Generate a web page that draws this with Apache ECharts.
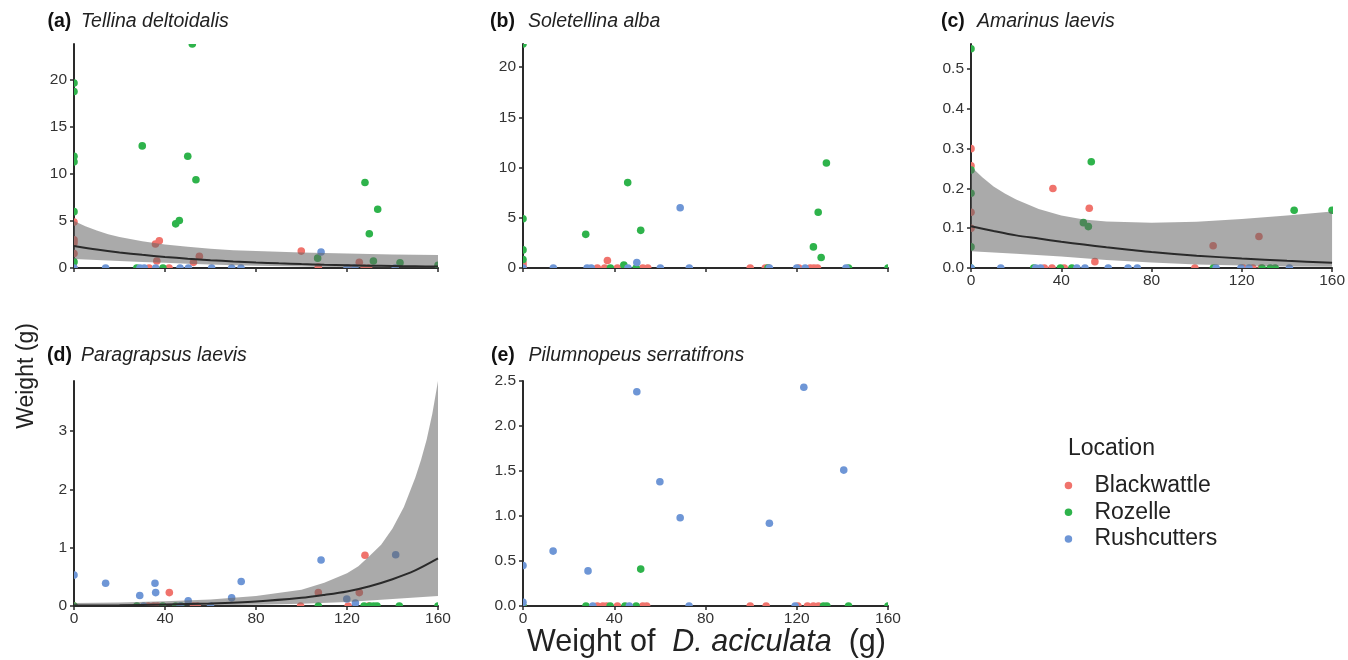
<!DOCTYPE html>
<html>
<head>
<meta charset="utf-8">
<script src="https://cdn.jsdelivr.net/npm/echarts@6/dist/echarts.min.js"></script>
<style>
html,body{margin:0;padding:0;background:#fff;}
#chart{width:1348px;height:660px;}
</style>
</head>
<body>
<div id="chart"></div>
<script>
// ---------- data ----------
const LOCATIONS = ['Blackwattle', 'Rozelle', 'Rushcutters'];
const X_TICKS = [0, 40, 80, 120, 160];

// Panel (a) Tellina deltoidalis
const aRed = [[0,4.9],[0,3.0],[0,2.7],[0,1.55],[0,0],[33,0],[35.8,2.55],[37.5,2.9],[36.4,0.75],[41.8,0],[52.5,0.6],[55.1,1.25],[99.9,1.8],[107.4,0.1],[120.5,0],[125.4,0.6],[127.5,0],[129.5,0]];
const aGreen = [[0,19.7],[0,18.8],[0,11.9],[0,11.3],[0,6.0],[0,0.65],[27.6,0],[30,13.0],[39.1,0],[44.7,4.7],[46.3,5.05],[50,11.9],[52,23.85],[53.6,9.4],[107.1,1.05],[127.9,9.1],[129.8,3.65],[131.6,0.75],[133.5,6.25],[143.3,0.55],[160,0.3]];
const aBlue = [[0,0],[13.9,0],[29,0],[30.9,0],[35.9,0],[46.6,0],[50.3,0],[60.5,0],[69.3,0],[73.4,0],[108.6,1.7],[120,0],[123.5,0],[141.2,0]];
const aFit = [[0,2.34],[10,1.97],[20,1.66],[30,1.4],[40,1.18],[50,0.99],[60,0.83],[70,0.7],[80,0.59],[90,0.5],[100,0.42],[110,0.35],[120,0.3],[130,0.25],[140,0.21],[150,0.18],[160,0.15]];
const aUpper = [[0,5.0],[5,4.45],[10,4.0],[15,3.6],[20,3.3],[30,2.85],[40,2.5],[50,2.25],[60,2.05],[70,1.9],[80,1.8],[100,1.65],[120,1.55],[140,1.45],[160,1.38]];
const aLower = [[0,0.95],[10,0.85],[20,0.75],[30,0.65],[40,0.55],[50,0.45],[60,0.38],[70,0.3],[80,0.25],[100,0.15],[120,0.08],[140,0.05],[160,0.02]];
const aYTicks = [0, 5, 10, 15, 20];

// Panel (b) Soletellina alba
const bRed = [[0,0.5],[0,0.2],[0,0],[32.6,0],[35.8,0],[37,0.75],[41.4,0],[52.5,0],[54.7,0],[99.6,0],[106.2,0],[107.5,0],[120.9,0],[125.9,0],[127.5,0],[129.1,0]];
const bGreen = [[0,22.3],[0,4.9],[0,1.8],[0,0.85],[27.5,3.35],[38.3,0],[44.2,0.3],[45.9,8.5],[49.6,0],[51.6,3.75],[107.4,0],[127.3,2.1],[129.4,5.55],[130.7,1.05],[133,10.45],[142.7,0],[160,0]];
const bBlue = [[0,0],[13.3,0],[28.1,0],[29.9,0],[46,0],[49.9,0.55],[60.2,0],[68.9,6.0],[72.9,0],[108,0],[120,0],[123.7,0],[141.6,0]];
const bYTicks = [0, 5, 10, 15, 20];

// Panel (c) Amarinus laevis
const cRed = [[0,0.30],[0,0.257],[0,0.14],[0,0.10],[32.5,0],[35.9,0],[36.3,0.20],[41.3,0],[52.4,0.15],[54.9,0.016],[99.2,0],[107.3,0.056],[120.5,0],[124.9,0],[127.6,0.079],[128.6,0]];
const cGreen = [[0,0.551],[0,0.246],[0,0.188],[0,0.053],[0,0],[27.8,0],[39.6,0],[44.7,0],[49.8,0.114],[52,0.104],[53.3,0.267],[107.4,0],[129,0],[132.6,0],[134.8,0],[143.2,0.145],[160,0.145]];
const cBlue = [[0,0],[13.2,0],[28.7,0],[30.8,0],[46.9,0],[50.5,0],[60.8,0],[69.6,0],[73.7,0],[108.6,0],[119.6,0],[123.2,0],[141.1,0]];
const cFit = [[0,0.105],[10,0.093],[20,0.082],[30,0.074],[40,0.066],[50,0.059],[60,0.052],[70,0.046],[80,0.040],[100,0.031],[120,0.024],[140,0.018],[160,0.013]];
const cUpper = [[0,0.255],[5,0.228],[10,0.205],[15,0.187],[20,0.172],[30,0.148],[40,0.132],[50,0.122],[60,0.117],[80,0.114],[100,0.116],[120,0.123],[140,0.132],[160,0.142]];
const cLower = [[0,0.042],[20,0.036],[40,0.029],[60,0.02],[80,0.014],[100,0.009],[120,0.006],[140,0.004],[160,0.003]];
const cYTicks = [0, 0.1, 0.2, 0.3, 0.4, 0.5];

// Panel (d) Paragrapsus laevis
const dRed = [[0,0],[32.6,0],[35,0],[36.7,0],[41.9,0.23],[52.5,0],[54.2,0],[99.6,0],[107.4,0.23],[120.5,0],[125.4,0.23],[127.9,0.87],[129.5,0]];
const dGreen = [[0,0],[27.6,0],[39,0],[44.7,0],[47,0],[107.4,0],[127.5,0],[130,0],[131.7,0],[133.2,0],[143,0],[160,0]];
const dBlue = [[0,0.53],[13.9,0.39],[28.9,0.18],[30.6,0],[35.6,0.39],[35.9,0.23],[46.6,0],[50.2,0.09],[60,0],[69.3,0.14],[73.5,0.42],[108.6,0.79],[119.9,0.12],[123.7,0.05],[141.4,0.88]];
const dFit = [[0,0.007],[20,0.013],[40,0.025],[60,0.044],[80,0.077],[100,0.14],[110,0.19],[120,0.25],[130,0.34],[140,0.46],[150,0.61],[160,0.815]];
const dUpper = [[0,0.05],[20,0.06],[40,0.08],[60,0.11],[80,0.17],[100,0.28],[110,0.4],[120,0.56],[125,0.68],[130,0.86],[135,1.05],[140,1.33],[145,1.7],[150,2.2],[152.5,2.5],[155,2.85],[157.5,3.3],[160,3.86]];
const dLower = [[0,0.0],[40,0.005],[80,0.02],[100,0.04],[120,0.07],[140,0.12],[160,0.17]];
const dYTicks = [0, 1, 2, 3];

// Panel (e) Pilumnopeus serratifrons
const eRed = [[0,0],[32.6,0],[35,0],[36.7,0],[41.4,0],[52.5,0],[54.2,0],[99.6,0],[106.6,0],[120.5,0],[124.7,0],[127.3,0],[129.5,0]];
const eGreen = [[0,0],[27.6,0],[38.2,0],[44.7,0],[49.6,0],[51.6,0.41],[131.7,0],[133.2,0],[142.7,0],[160,0]];
const eBlue = [[0,0.45],[0,0.04],[13.2,0.61],[28.5,0.39],[30.6,0],[46.6,0],[49.9,2.38],[60,1.38],[68.9,0.98],[72.8,0],[108,0.92],[119.3,0],[123.1,2.43],[140.6,1.51]];
const eYTicks = [0, 0.5, 1.0, 1.5, 2.0, 2.5];

// ---------- styling / layout ----------
const COLORS = {Blackwattle:'#F0736C', Rozelle:'#2EB34B', Rushcutters:'#6E96D6'};
const FONT = "'Liberation Sans', Arial, Helvetica, sans-serif";
const AXIS_COLOR = '#2a2a2a';
const LABEL_COLOR = '#333333';
const POINT_R = 3.8;

const panels = [
  {key:'a', title:'(a)', species:'Tellina deltoidalis', tx:47.5, sx:81, ty:22.5,
   grid:{left:74, top:44, width:364, height:224}, ymax:23.85, yTicks:aYTicks, dec:0, xLabels:false,
   pts:[aRed, aGreen, aBlue], fit:aFit, upper:aUpper, lower:aLower},
  {key:'b', title:'(b)', species:'Soletellina alba', tx:490, sx:528, ty:22.5,
   grid:{left:523, top:44, width:365, height:224}, ymax:22.3, yTicks:bYTicks, dec:0, xLabels:false,
   pts:[bRed, bGreen, bBlue]},
  {key:'c', title:'(c)', species:'Amarinus laevis', tx:941, sx:977, ty:22.5,
   grid:{left:971, top:44, width:364, height:224}, ymax:0.563, yTicks:cYTicks, dec:1, xLabels:true,
   pts:[cRed, cGreen, cBlue], fit:cFit, upper:cUpper, lower:cLower},
  {key:'d', title:'(d)', species:'Paragrapsus laevis', tx:47, sx:81, ty:357,
   grid:{left:74, top:381, width:364, height:225}, ymax:3.86, yTicks:dYTicks, dec:0, xLabels:true,
   pts:[dRed, dGreen, dBlue], fit:dFit, upper:dUpper, lower:dLower},
  {key:'e', title:'(e)', species:'Pilumnopeus serratifrons', tx:491, sx:528.5, ty:357,
   grid:{left:523, top:381, width:365, height:225}, ymax:2.5, yTicks:eYTicks, dec:1, xLabels:true,
   pts:[eRed, eGreen, eBlue]}
];

const grids = [], xAxes = [], yAxes = [], series = [], graphics = [];

panels.forEach((p, i) => {
  grids.push(Object.assign({}, p.grid));
  xAxes.push({
    type:'value', gridIndex:i, min:0, max:160, interval:40,
    axisLine:{show:true, lineStyle:{color:AXIS_COLOR, width:2}},
    axisTick:{show:true, length:4, lineStyle:{color:AXIS_COLOR, width:1.5}},
    axisLabel:{show:p.xLabels, color:LABEL_COLOR, fontSize:15.5, fontFamily:FONT, margin:5},
    splitLine:{show:false}
  });
  yAxes.push({
    type:'value', gridIndex:i, min:0, max:p.ymax,
    axisLine:{show:true, onZero:false, lineStyle:{color:AXIS_COLOR, width:2}},
    axisTick:{show:true, length:4, customValues:p.yTicks, lineStyle:{color:AXIS_COLOR, width:1.5}},
    axisLabel:{show:true, customValues:p.yTicks, color:LABEL_COLOR, fontSize:15.5, fontFamily:FONT, margin:7,
      formatter:(v)=> Number(v).toFixed(p.dec)},
    splitLine:{show:false}
  });
  LOCATIONS.forEach((loc, k) => {
    const col = COLORS[loc];
    series.push({
      type:'custom', name:loc, xAxisIndex:i, yAxisIndex:i, data:p.pts[k],
      encode:{x:0, y:1}, clip:true, z:2, silent:true,
      itemStyle:{color:col},
      renderItem:(params, api) => {
        const c = api.coord([api.value(0), api.value(1)]);
        return {type:'circle', shape:{cx:c[0], cy:c[1], r:POINT_R}, style:{fill:col}};
      }
    });
  });
  if (p.upper) {
    const up = p.upper, lo = p.lower;
    series.push({
      type:'custom', name:'band'+p.key, xAxisIndex:i, yAxisIndex:i, z:3, silent:true, clip:true,
      data:[[0,0]],
      renderItem:(params, api) => {
        const pts = up.map(d=>api.coord(d)).concat(lo.slice().reverse().map(d=>api.coord(d)));
        return {type:'polygon', shape:{points:pts}, style:{fill:'rgba(100,100,100,0.55)', stroke:null}};
      }
    });
    series.push({
      type:'line', name:'fit'+p.key, xAxisIndex:i, yAxisIndex:i, data:p.fit, z:4,
      smooth:0.3, showSymbol:false, symbol:'none', silent:true,
      lineStyle:{color:'#2a2a2a', width:2}, emphasis:{disabled:true}
    });
  }
  graphics.push({type:'text', left:p.tx, top:p.ty - 11, style:{text:p.title, font:`bold 19.5px ${FONT}`, fill:'#111'}});
  graphics.push({type:'text', left:p.sx, top:p.ty - 11, style:{text:p.species, font:`italic 19.5px ${FONT}`, fill:'#222'}});
});

// axis titles
graphics.push({type:'text', x:27, y:376, rotation:Math.PI/2,
  style:{text:'Weight (g)', font:`23px ${FONT}`, fill:'#222', align:'center', verticalAlign:'middle'}});
graphics.push({type:'text', x:706.5, y:643,
  style:{text:'{n|Weight of  }{i|D. aciculata}{n|  (g)}', align:'center', verticalAlign:'middle',
    rich:{n:{fontSize:30.5, fontFamily:FONT, fill:'#222', color:'#222'}, i:{fontSize:30.5, fontFamily:FONT, fontStyle:'italic', color:'#222', fill:'#222'}}}});
// legend title
graphics.push({type:'text', left:1068, top:437, style:{text:'Location', font:`23px ${FONT}`, fill:'#222'}});

const option = {
  animation:false,
  backgroundColor:'#ffffff',
  grid:grids, xAxis:xAxes, yAxis:yAxes, series:series,
  legend:{
    data:LOCATIONS, orient:'vertical', left:1059.7, top:469,
    icon:'circle', itemWidth:42, itemHeight:7.5, itemGap:3.7, selectedMode:false,
    textStyle:{fontSize:23, fontFamily:FONT, color:'#222', lineHeight:23}
  },
  graphic:graphics
};

const chart = echarts.init(document.getElementById('chart'), null, {renderer:'canvas'});
chart.setOption(option);
</script>
</body>
</html>
